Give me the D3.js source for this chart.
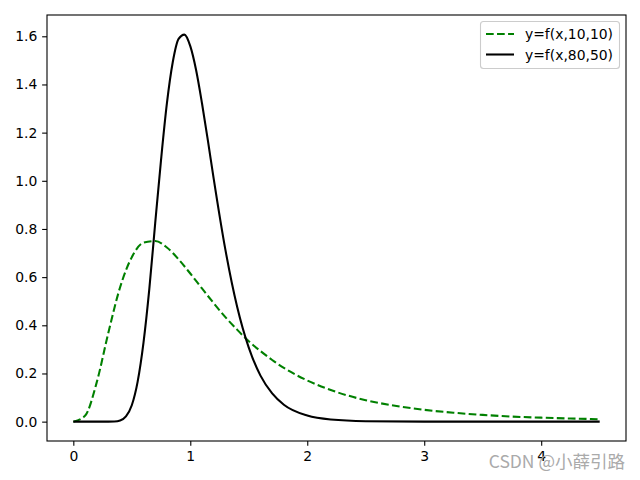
<!DOCTYPE html>
<html><head><meta charset="utf-8">
<script src="https://cdn.jsdelivr.net/npm/d3@7"></script>
<style>body{margin:0;background:#fff}svg{display:block}text{font-family:"DejaVu Sans",sans-serif}</style>
</head><body><svg id="c" width="640" height="480"></svg>
<script>
// Series
const xGreen = [0,0.1,0.2,0.3,0.4,0.5,0.6,0.7,0.8,0.9,1.0,1.1,1.2,1.3,1.4,1.5,1.6,1.7,1.8,1.9,2.0,2.25,2.5,2.75,3.0,3.25,3.5,3.75,4.0,4.25,4.5];
const yGreen = [0,0.024,0.163,0.370,0.558,0.683,0.743,0.750,0.723,0.674,0.615,0.553,0.492,0.434,0.382,0.334,0.293,0.256,0.223,0.195,0.171,0.123,0.089,0.066,0.049,0.037,0.028,0.021,0.0165,0.013,0.010];
const xBlack = [0,0.3,0.35,0.4,0.45,0.5,0.55,0.6,0.65,0.7,0.75,0.8,0.85,0.9,0.95,1.0,1.05,1.1,1.15,1.2,1.3,1.4,1.5,1.6,1.7,1.8,2.0,2.2,2.5,3.0,3.5,4.0,4.5];
const yBlack = [0,0.0001,0.0007,0.005,0.022,0.068,0.166,0.328,0.552,0.824,1.087,1.321,1.492,1.589,1.607,1.559,1.459,1.322,1.169,1.009,0.714,0.478,0.307,0.191,0.117,0.070,0.025,0.0086,0.0018,0.0002,0,0,0];
const xTicks = [0,1,2,3,4];
const yTicks = [0.0,0.2,0.4,0.6,0.8,1.0,1.2,1.4,1.6];
const legendLabels = ["y=f(x,10,10)","y=f(x,80,50)"];

const svg = d3.select("#c");
const L=47, R=626, T=15, B=441;
const x = d3.scaleLinear().domain([-0.225,4.725]).range([L,R]);
const y = d3.scaleLinear().domain([-0.0804,1.6884]).range([B,T]);
const FS = 13.9, DASH = "7.7,3.33";

const line = d3.line().x(d=>x(d[0])).y(d=>y(d[1])).curve(d3.curveMonotoneX);
svg.append("path").datum(xGreen.map((v,i)=>[v,yGreen[i]])).attr("d",line)
  .attr("fill","none").attr("stroke","#008000").attr("stroke-width",2.08).attr("stroke-dasharray",DASH);
svg.append("path").datum(xBlack.map((v,i)=>[v,yBlack[i]])).attr("d",line)
  .attr("fill","none").attr("stroke","#000").attr("stroke-width",2.08);

const xa = svg.append("g").attr("transform",`translate(0,${B})`)
  .call(d3.axisBottom(x).tickValues(xTicks).tickFormat(d3.format("d")).tickSize(4.86).tickPadding(4.86));
const ya = svg.append("g").attr("transform",`translate(${L},0)`)
  .call(d3.axisLeft(y).tickValues(yTicks).tickFormat(d3.format(".1f")).tickSize(4.86).tickPadding(4.86));
[xa,ya].forEach(g=>{g.select(".domain").remove();g.selectAll("text").attr("font-size",FS).attr("fill","#000").style("font-family","DejaVu Sans");g.selectAll("line").attr("stroke","#000").attr("stroke-width",1.1);});

svg.append("rect").attr("x",L).attr("y",T).attr("width",R-L).attr("height",B-T)
  .attr("fill","none").attr("stroke","#000").attr("stroke-width",1.1);

// legend
const lg = svg.append("g");
lg.append("rect").attr("x",480.5).attr("y",21.5).attr("width",139).attr("height",47).attr("rx",3)
  .attr("fill","#fff").attr("fill-opacity",0.8).attr("stroke","#ccc").attr("stroke-width",1.1);
const styles=[{c:"#008000",d:DASH},{c:"#000",d:null}];
legendLabels.forEach((t,i)=>{
  const yy=34+i*20.5;
  lg.append("line").attr("x1",486).attr("x2",514).attr("y1",yy).attr("y2",yy)
    .attr("stroke",styles[i].c).attr("stroke-width",2.08).attr("stroke-dasharray",styles[i].d);
  lg.append("text").attr("x",525).attr("y",yy+5).attr("font-size",FS).text(t);
});

svg.append("text").attr("x",625).attr("y",468).attr("text-anchor","end").attr("font-size",17.5)
  .attr("fill","#aaa").style("font-family","'Noto Sans CJK SC',sans-serif").text("CSDN @小薛引路");
</script></body></html>
